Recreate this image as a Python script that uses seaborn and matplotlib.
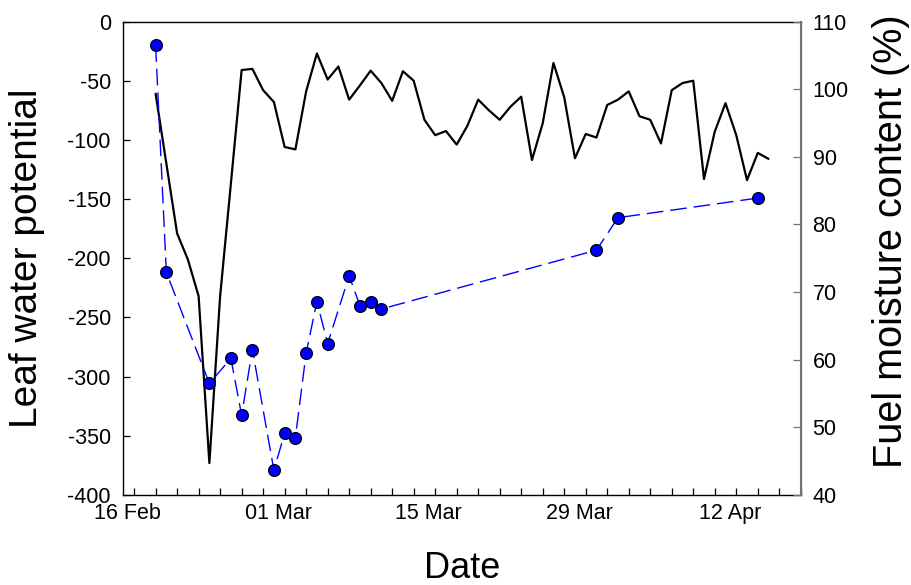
import matplotlib
matplotlib.use("Agg")
import matplotlib.pyplot as plt
import matplotlib.dates as mdates
import matplotlib.transforms as mtransforms
import numpy as np
import pandas as pd
import seaborn as sns

# daily leaf water potential (black line, left axis)
lwp_dates = pd.date_range("2016-02-18", "2016-04-15", freq="D")
lwp_values = [-61, -120, -179, -201, -232, -373, -232, -137, -41, -40, -58, -68,
              -106, -108, -59, -27, -49, -38, -66, -54, -41.5, -52, -67, -42, -50,
              -83, -96, -92.5, -104, -88, -66, -75, -83, -72, -63.5, -117, -86, -35,
              -64, -115.5, -95, -98, -70.5,
              -66, -59, -80, -83, -103, -58, -52, -50, -133, -93, -69, -96, -134,
              -111, -116]

# sampled fuel moisture content (blue points, right axis)
fmc_dates = pd.to_datetime(["2016-02-18", "2016-02-19", "2016-02-23", "2016-02-25",
                            "2016-02-26", "2016-02-27", "2016-02-29", "2016-03-01",
                            "2016-03-02", "2016-03-03", "2016-03-04", "2016-03-05",
                            "2016-03-07", "2016-03-08", "2016-03-09", "2016-03-10",
                            "2016-03-30", "2016-04-01", "2016-04-14"])
fmc_values = [106.5, 72.9, 56.5, 60.2, 51.8, 61.5, 43.7, 49.1, 48.5, 61.0, 68.6,
              62.4, 72.4, 68.0, 68.6, 67.5, 76.2, 81.0, 83.9]

major_ticks = pd.date_range("2016-02-16", periods=5, freq="14D")
minor_ticks = pd.date_range("2016-02-16", "2016-04-18", freq="2D")

lwp = pd.DataFrame({"Date": lwp_dates, "LWP": lwp_values})
fmc = pd.DataFrame({"Date": fmc_dates, "FMC": fmc_values})

sns.set_style("ticks")
plt.rcParams["font.family"] = ["Liberation Sans", "DejaVu Sans"]
plt.rcParams["axes.unicode_minus"] = False
plt.rcParams["text.color"] = "black"
plt.rcParams["axes.labelcolor"] = "black"

fig = plt.figure(figsize=(9.11, 5.85), dpi=100)
ax = fig.add_axes([0.1354, 0.1538, 0.7436, 0.8094])
ax2 = ax.twinx()

sns.lineplot(data=lwp, x="Date", y="LWP", ax=ax, color="black", linewidth=1.6)
sns.lineplot(data=fmc, x="Date", y="FMC", ax=ax2, color="#0000ff", linewidth=1.0,
             linestyle=(0, (12, 5)), marker="o", markersize=8.5,
             markerfacecolor="#0000ff", markeredgecolor="black", markeredgewidth=0.9)

ax.set_xlim(pd.Timestamp("2016-02-15"), pd.Timestamp("2016-04-18"))
ax.set_ylim(-400, 0)
ax.set_yticks(np.arange(-400, 1, 50))
ax2.set_ylim(40, 110)
ax2.set_yticks(np.arange(40, 111, 10))

ax.set_xticks(major_ticks)
ax.set_xticks(minor_ticks, minor=True)
ax.xaxis.set_major_formatter(mdates.DateFormatter("%d %b"))

ax.tick_params(axis="both", which="both", direction="in", labelsize=15.5,
               length=5, width=0.9, colors="black")
ax.tick_params(axis="y", pad=9)
ax.tick_params(axis="x", pad=6)
ax2.tick_params(axis="y", direction="in", labelsize=15.5, length=6, width=0.9,
                color="0.45", labelcolor="black", pad=8.5)

# labels sit a little left of their ticks in the original
offset = mtransforms.ScaledTranslation(-6.5 / 100, 0, fig.dpi_scale_trans)
for lab in ax.get_xticklabels():
    lab.set_transform(lab.get_transform() + offset)

for side in ["left", "bottom", "top"]:
    ax.spines[side].set_color("black")
    ax.spines[side].set_linewidth(1.0)
ax2.spines["right"].set_color("0.45")
ax2.spines["right"].set_linewidth(1.5)
for side in ["left", "bottom", "top"]:
    ax2.spines[side].set_visible(False)

ax.set_xlabel("Date", fontsize=26, labelpad=19)
ax.set_ylabel("Leaf water potential", fontsize=28, labelpad=16)
ax2.set_ylabel("Fuel moisture content (%)", fontsize=28.5, labelpad=17)
ax2.yaxis.label.set_y(0.536)

fig.savefig("out.png", dpi=100)
